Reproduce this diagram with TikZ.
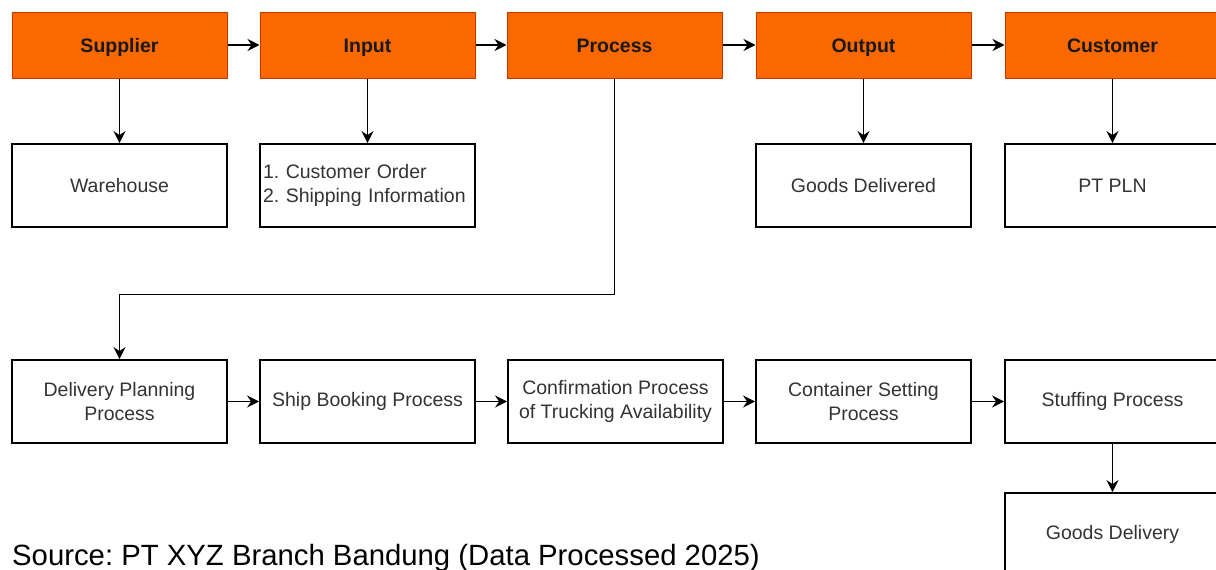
\documentclass[tikz,border=0pt]{standalone}
\usepackage{fontspec}
\setmainfont{Liberation Sans}
\usetikzlibrary{arrows.meta}
\definecolor{orfill}{HTML}{FA6800}
\definecolor{ordraw}{HTML}{C73500}
\definecolor{txt}{HTML}{333333}
\tikzset{
  box/.style={draw=black, line width=1.8pt, fill=white, minimum width=215pt, minimum height=83pt, inner sep=0pt, align=center, text=txt, font=\fontsize{19.5}{24}\selectfont\frenchspacing},
  headbox/.style={draw=ordraw, line width=1pt, fill=orfill, minimum width=215pt, minimum height=66pt, inner sep=0pt, align=center, text=black!90, text height=16pt, text depth=2pt, font=\fontsize{19.5}{24}\selectfont\bfseries},
  conn/.style={line width=1.8pt, -{Stealth[length=12pt,width=12pt,inset=4pt]}}
}
\begin{document}
\frenchspacing
\begin{tikzpicture}[x=1pt,y=-1pt]
\useasboundingbox (0,0) rectangle (1216,570);
\clip (0,0) rectangle (1216,570);
% header row
\node[headbox] (sup) at (119.5,45) {Supplier};
\node[headbox] (inp) at (367.5,45) {Input};
\node[headbox] (pro) at (614.5,45) {Process};
\node[headbox] (out) at (863.5,45) {Output};
\node[headbox] (cus) at (1112.5,45) {Customer};
% second row
\node[box] (wh) at (119.5,185.5) {Warehouse};
\node[box, align=left, text width=209pt] (lst) at (367.5,185.5) {1. Customer Order\\2. Shipping Information};
\node[box] (gd) at (863.5,185.5) {Goods Delivered};
\node[box] (pln) at (1112.5,185.5) {PT PLN};
% third row
\node[box] (dp) at (119.5,401.5) {Delivery Planning\\Process};
\node[box] (sb) at (367.5,401.5) {Ship Booking Process};
\node[box] (cf) at (615.5,401.5) {Confirmation Process\\of Trucking Availability};
\node[box] (cs) at (863.5,401.5) {Container Setting\\Process};
\node[box] (st) at (1112.5,401.5) {Stuffing Process};
\node[box] (gdl) at (1112.5,534.5) {Goods Delivery};
% connectors
\draw[conn] (sup) -- (inp);
\draw[conn] (inp) -- (pro);
\draw[conn] (pro) -- (out);
\draw[conn] (out) -- (cus);
\draw[conn] (sup) -- (wh);
\draw[conn] (inp) -- (lst);
\draw[conn] (out) -- (gd);
\draw[conn] (cus) -- (pln);
\draw[conn] (pro.south) -- ++(0,216) -| (dp.north);
\draw[conn] (dp) -- (sb);
\draw[conn] (sb) -- (cf);
\draw[conn] (cf) -- (cs);
\draw[conn] (cs) -- (st);
\draw[conn] (st) -- (gdl);
% source
\node[anchor=base west, inner sep=0pt, font=\fontsize{29.3}{35}\selectfont] (src) at (12,565) {Source: PT XYZ Branch Bandung (Data Processed 2025)};
\end{tikzpicture}
\end{document}
